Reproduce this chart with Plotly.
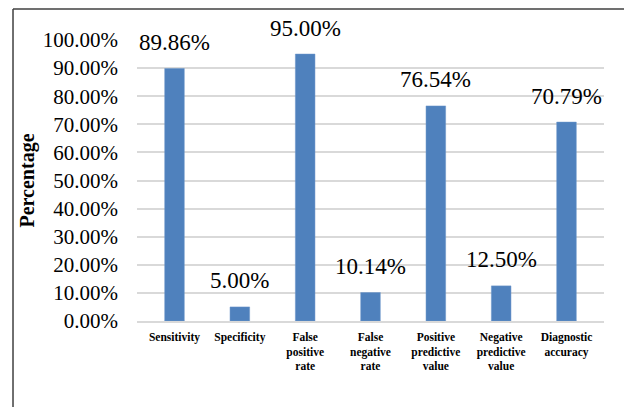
import plotly.graph_objects as go

categories = ["Sensitivity", "Specificity", "False<br>positive<br>rate", "False<br>negative<br>rate",
              "Positive<br>predictive<br>value", "Negative<br>predictive<br>value", "Diagnostic<br>accuracy"]
values = [89.86, 5.00, 95.00, 10.14, 76.54, 12.50, 70.79]
tick_vals = [0, 10, 20, 30, 40, 50, 60, 70, 80, 90, 100]
tick_text = [f"{v:.2f}%" for v in tick_vals]

FONT = "Liberation Serif"

fig = go.Figure()
fig.add_trace(go.Bar(
    x=categories, y=values, width=0.3,
    marker=dict(color="#4F81BD", line=dict(color="#6A95C9", width=0.5)),
    hoverinfo="skip",
))

for c, v in zip(categories, values):
    fig.add_annotation(x=c, y=v, text=f"{v:.2f}%", showarrow=False,
                       yanchor="middle", yshift=26,
                       font=dict(family=FONT, size=23, color="black"))

fig.add_shape(type="line", xref="paper", yref="paper", x0=-0.2655, x1=1.3, y0=1.110, y1=1.110,
              line=dict(color="#404040", width=1.5))
fig.add_shape(type="line", xref="paper", yref="paper", x0=-0.2655, x1=-0.2655, y0=1.110, y1=-0.6,
              line=dict(color="#404040", width=1.5))

fig.update_layout(
    width=624, height=399,
    margin=dict(l=129, r=28, t=32, b=86),
    paper_bgcolor="white", plot_bgcolor="white",
    showlegend=False,
    font=dict(family=FONT, color="black"),
)
fig.update_yaxes(
    range=[0, 100], tickvals=tick_vals, ticktext=tick_text,
    showgrid=True, gridcolor="#D9D9D9", gridwidth=1.5,
    zeroline=False, showline=False,
    ticklabelstandoff=18,
    tickfont=dict(family=FONT, size=21, color="black"),
    title=dict(text="<b>Percentage</b>", font=dict(family=FONT, size=20, color="black"), standoff=2),
)
fig.update_xaxes(
    showgrid=False, showline=True, linecolor="#D9D9D9", linewidth=1.5,
    tickfont=dict(family=FONT, size=11.5, color="black"),
    ticklabelstandoff=4, tickprefix="<b>", ticksuffix="</b>",
)

fig.write_html("out.html")
